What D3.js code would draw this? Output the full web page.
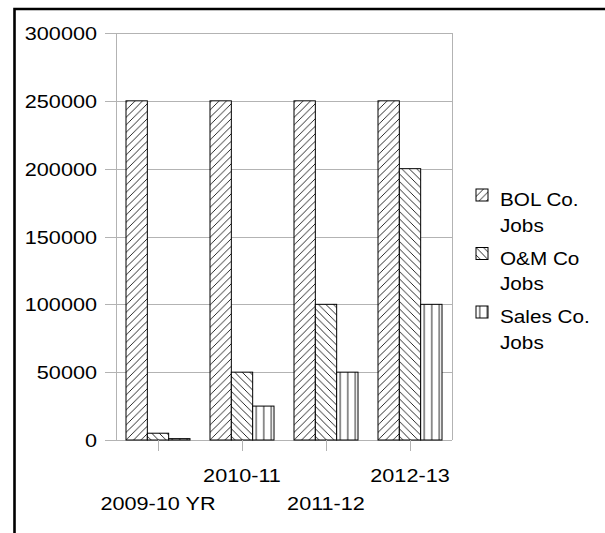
<!DOCTYPE html>
<html>
<head>
<meta charset="utf-8">
<script src="https://cdn.jsdelivr.net/npm/d3@7"></script>
<style>
  html, body { margin: 0; padding: 0; background: #fff; }
  svg { display: block; }
  text { font-family: "Liberation Sans", Arial, sans-serif; font-size: 18.5px; fill: #000; }
</style>
</head>
<body>
<svg id="chart" width="605" height="533"></svg>
<script>
// Job counts per fiscal year
const categories = ["2009-10 YR", "2010-11", "2011-12", "2012-13"];
const seriesNames = ["BOL Co. Jobs", "O&M Co Jobs", "Sales Co. Jobs"];
const bolJobs = [250000, 250000, 250000, 250000];
const omJobs = [5000, 50000, 100000, 200000];
const salesJobs = [1000, 25000, 50000, 100000];
const yTicks = [0, 50000, 100000, 150000, 200000, 250000, 300000];
const legendLines = [["BOL Co.", "Jobs"], ["O&M Co", "Jobs"], ["Sales Co.", "Jobs"]];

const seriesValues = [bolJobs, omJobs, salesJobs];
const patternIds = ["hatch-fwd", "hatch-back", "hatch-vert"];

const svg = d3.select("#chart");
const grid = "#b3b3b3";
const stretch = 1.17; // wide lettering

const plot = { left: 116, right: 452, top: 33, bottom: 440 };

// Hatch fills
const defs = svg.append("defs");
const P = 7.5;
function pattern(id, draw) {
  const p = defs.append("pattern")
    .attr("id", id)
    .attr("patternUnits", "userSpaceOnUse")
    .attr("width", P).attr("height", P);
  p.append("rect").attr("width", P).attr("height", P).attr("fill", "#fff");
  draw(p);
}
pattern("hatch-fwd", p => {
  p.append("path").attr("d", `M-1,${P + 1} L${P + 1},-1 M-1,1 L1,-1 M${P - 1},${P + 1} L${P + 1},${P - 1}`)
    .attr("stroke", "#111").attr("stroke-width", 0.9);
});
pattern("hatch-back", p => {
  p.append("path").attr("d", `M-1,-1 L${P + 1},${P + 1} M${P - 1},-1 L${P + 1},1 M-1,${P - 1} L1,${P + 1}`)
    .attr("stroke", "#111").attr("stroke-width", 0.9);
});
pattern("hatch-vert", p => {
  p.append("path").attr("d", `M${P / 2},0 L${P / 2},${P}`)
    .attr("stroke", "#222").attr("stroke-width", 1);
});

// Scales
const y = d3.scaleLinear().domain([0, 300000]).range([plot.bottom, plot.top]);
const x0 = d3.scaleBand().domain(categories).range([plot.left, plot.right]).padding(0);
const x1 = d3.scaleBand().domain(seriesNames).range([10, x0.bandwidth() - 10]).padding(0);

// Gridlines with outside ticks
const yAxis = svg.append("g")
  .attr("transform", `translate(${plot.left},0)`)
  .call(d3.axisLeft(y).tickValues(yTicks).tickSize(-(plot.right - plot.left)).tickSizeOuter(0).tickFormat(""));
yAxis.select(".domain").remove();
yAxis.selectAll(".tick line").attr("stroke", grid).attr("x1", -11).attr("shape-rendering", "crispEdges");

// Plot frame sides
svg.append("line").attr("x1", plot.left).attr("x2", plot.left).attr("y1", plot.top).attr("y2", plot.bottom)
  .attr("stroke", grid).attr("shape-rendering", "crispEdges");
svg.append("line").attr("x1", plot.right).attr("x2", plot.right).attr("y1", plot.top).attr("y2", plot.bottom)
  .attr("stroke", grid).attr("shape-rendering", "crispEdges");

// Y tick labels
svg.append("g").selectAll("text").data(yTicks).join("text")
  .attr("transform", d => `translate(97,${y(d) + 7}) scale(${stretch},1)`)
  .attr("text-anchor", "end")
  .text(d => d);

// Bars
const groups = svg.append("g").selectAll("g").data(categories).join("g")
  .attr("transform", d => `translate(${x0(d)},0)`);
groups.selectAll("rect")
  .data((c, i) => seriesNames.map((s, j) => ({ s, j, v: seriesValues[j][i] })))
  .join("rect")
  .attr("x", d => x1(d.s))
  .attr("width", x1.bandwidth())
  .attr("y", d => y(d.v))
  .attr("height", d => y(0) - y(d.v))
  .attr("fill", d => `url(#${patternIds[d.j]})`)
  .attr("stroke", "#000")
  .attr("stroke-width", 1);

// Category ticks at band centres
const xAxis = svg.append("g")
  .attr("transform", `translate(0,${plot.bottom})`)
  .call(d3.axisBottom(x0).tickSize(11).tickSizeOuter(0).tickFormat(""));
xAxis.select(".domain").remove();
xAxis.selectAll(".tick line").attr("stroke", grid).attr("shape-rendering", "crispEdges");

// Staggered category labels
svg.append("g").selectAll("text").data(categories).join("text")
  .attr("transform", (d, i) => `translate(${x0(d) + x0.bandwidth() / 2},${i % 2 === 0 ? 510 : 482}) scale(${stretch},1)`)
  .attr("text-anchor", "middle")
  .text(d => d);

// Legend
const legend = svg.append("g").selectAll("g").data(legendLines).join("g")
  .attr("transform", (d, i) => `translate(476,${189 + i * 58.5})`);
legend.append("rect")
  .attr("width", 12).attr("height", 12)
  .attr("fill", (d, i) => `url(#${patternIds[i]})`)
  .attr("stroke", "#000").attr("stroke-width", 1);
legend.append("text")
  .attr("transform", "translate(24,17) scale(1.12,1)")
  .selectAll("tspan").data(d => d).join("tspan")
  .attr("x", 0).attr("dy", (d, i) => i === 0 ? 0 : 26)
  .text(d => d);

// Outer frame (top and left edges)
svg.append("path")
  .attr("d", "M14.5,533 L14.5,9 L605,9")
  .attr("fill", "none").attr("stroke", "#000").attr("stroke-width", 2.6);
</script>
</body>
</html>
